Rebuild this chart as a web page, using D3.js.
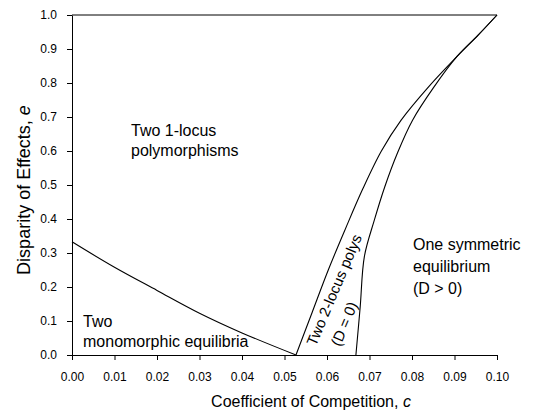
<!DOCTYPE html>
<html><head><meta charset="utf-8">
<script src="https://cdn.jsdelivr.net/npm/d3@7"></script>
<style>body{margin:0;background:#fff}svg{display:block}text{font-family:"Liberation Sans",Arial,sans-serif;fill:#000}</style>
</head><body><svg id="c" width="540" height="413"></svg>
<script>
// Data
const xTicks = [0,0.01,0.02,0.03,0.04,0.05,0.06,0.07,0.08,0.09,0.10];
const yTicks = [0,0.1,0.2,0.3,0.4,0.5,0.6,0.7,0.8,0.9,1.0];
// boundary: monomorphic equilibria
const monoC = [0, 0.01, 0.02, 0.03, 0.04, 0.0527];
const monoE = [0.333, 0.258, 0.19, 0.123, 0.065, 0];
// boundary: left edge of 2-locus polys region
const leftC = [0.0527, 0.0565, 0.0603, 0.0643, 0.0684, 0.0728, 0.0774, 0.0840, 0.0906, 0.0955, 0.1];
const leftE = [0, 0.125, 0.25, 0.37, 0.488, 0.60, 0.69, 0.79, 0.878, 0.94, 1.0];
// boundary: right edge (symmetric equilibrium)
const rightC = [0.0668, 0.0678, 0.0688, 0.0711, 0.0736, 0.0766, 0.0801, 0.0851, 0.0906, 0.0955, 0.1];
const rightE = [0, 0.14, 0.29, 0.395, 0.495, 0.595, 0.69, 0.787, 0.878, 0.94, 1.0];

const svg = d3.select("#c");
const x = d3.scaleLinear().domain([0,0.1]).range([72,497]);
const y = d3.scaleLinear().domain([0,1]).range([355,15]);

const gx = svg.append("g").attr("transform","translate(0,355)")
  .call(d3.axisBottom(x).tickValues(xTicks).tickFormat(d3.format(".2f")).tickSizeInner(5).tickSizeOuter(0).tickPadding(12));
const gy = svg.append("g").attr("transform","translate(72,0)")
  .call(d3.axisLeft(y).tickValues(yTicks).tickFormat(d3.format(".1f")).tickSizeInner(5).tickSizeOuter(0).tickPadding(10));
svg.selectAll(".tick text").style("font-size","12px").style("font-family",'"Liberation Sans",Arial,sans-serif');
svg.selectAll(".domain, .tick line").attr("stroke","#000");

// top line
svg.append("line").attr("x1",x(0)).attr("x2",x(0.1)).attr("y1",y(1)).attr("y2",y(1)).attr("stroke","#000");

const line = d3.line().x(d=>x(d[0])).y(d=>y(d[1])).curve(d3.curveCatmullRom.alpha(0.5));
function draw(cs, es){
  svg.append("path").datum(cs.map((c,i)=>[c,es[i]])).attr("d",line)
    .attr("fill","none").attr("stroke","#000").attr("stroke-width",1.1);
}
draw(monoC, monoE);
draw(leftC, leftE);
draw(rightC, rightE);

// axis titles
const xt = svg.append("text").attr("x",311).attr("y",407).attr("text-anchor","middle").style("font-size","16px");
xt.append("tspan").text("Coefficient of Competition, ");
xt.append("tspan").style("font-style","italic").text("c");
const yt = svg.append("text").attr("transform","translate(30,190) rotate(-90)").attr("text-anchor","middle").style("font-size","18px");
yt.append("tspan").text("Disparity of Effects, ");
yt.append("tspan").style("font-style","italic").text("e");

// region labels
function label(lines, x0, y0, dy){
  const t = svg.append("text").style("font-size","16px");
  lines.forEach((s,i)=>t.append("tspan").attr("x",x0).attr("y",y0+i*dy).text(s));
}
label(["Two 1-locus","polymorphisms"],131,136,19.5);
label(["Two","monomorphic equilibria"],83,327,20);
label(["One symmetric","equilibrium","(D > 0)"],413,250,22);

const r = svg.append("g");
r.append("text").attr("transform","translate(339,292) rotate(-67)").attr("text-anchor","middle").style("font-size","15px").text("Two 2-locus polys");
r.append("text").attr("transform","translate(349,326) rotate(-67)").attr("text-anchor","middle").style("font-size","15px").text("(D = 0)");
</script></body></html>
